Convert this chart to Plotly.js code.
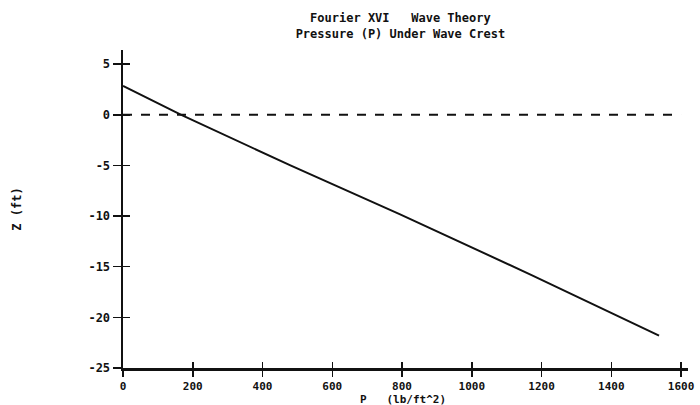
<!DOCTYPE html>
<html>
<head>
<meta charset="utf-8">
<script src="https://cdn.plot.ly/plotly-3.0.1.min.js"></script>
<style>html,body{margin:0;padding:0;background:#fff;}#chart{width:700px;height:405px;}</style>
</head>
<body>
<div id="chart"></div>
<script>
// Pressure profile under the wave crest
const pressure = [0, 167, 480, 793, 1170, 1537];
const depth = [2.85, 0, -5.0, -9.8, -15.8, -21.8];
// Still water level (dashed)
const swlP = [0, 1600];
const swlZ = [0, 0];
const xTicks = [0, 200, 400, 600, 800, 1000, 1200, 1400, 1600];
const yTicks = [5, 0, -5, -10, -15, -20, -25];

const font = {family: 'DejaVu Sans Mono, monospace', size: 12, color: '#111'};
const tfont = {family: 'DejaVu Sans Mono, monospace', size: 11, color: '#111'};

const traces = [
  {x: swlP, y: swlZ, mode: 'lines', line: {color: '#111', width: 2, dash: '9px,9px'}, hoverinfo: 'skip'},
  {x: pressure, y: depth, mode: 'lines', line: {color: '#111', width: 2}, hoverinfo: 'skip'}
];

const xr = [0, 1620], yr = [-25, 6.4];
const layout = {
  width: 700, height: 405,
  margin: {l: 123, r: 12, t: 50, b: 37},
  paper_bgcolor: '#fff', plot_bgcolor: '#fff',
  showlegend: false,
  font: font,
  title: {text: '<b>Fourier XVI   Wave Theory<br>Pressure (P) Under Wave Crest</b>',
          x: 0.572, xanchor: 'center', y: 0.945, yanchor: 'top',
          font: {family: 'DejaVu Sans Mono, monospace', size: 12, color: '#111'}},
  xaxis: {range: xr, tickvals: xTicks, ticktext: xTicks.map(v => '<b>' + v + '</b>'),
          ticks: 'outside', ticklen: 6, tickwidth: 1.5, tickcolor: '#111',
          showline: true, linecolor: '#111', linewidth: 2.5, showgrid: false, zeroline: false,
          tickfont: tfont},
  yaxis: {range: yr, tickvals: yTicks, ticktext: yTicks.map(v => '<b>' + v + '</b>'),
          ticks: 'outside', ticklen: 8, tickwidth: 1.5, tickcolor: '#111',
          showline: true, linecolor: '#111', linewidth: 2.5, showgrid: false, zeroline: false,
          tickfont: font,
          title: {text: '<b>Z (ft)</b>', font: font, standoff: 64}},
  xaxis2: {overlaying: 'x', range: xr, tickvals: xTicks, ticks: 'inside', ticklen: 6, tickwidth: 1.5,
           tickcolor: '#111', showticklabels: false, showgrid: false, zeroline: false, showline: false, side: 'bottom'},
  yaxis2: {overlaying: 'y', range: yr, tickvals: yTicks, ticks: 'inside', ticklen: 7, tickwidth: 1.5,
           tickcolor: '#111', showticklabels: false, showgrid: false, zeroline: false, showline: false, side: 'left'},
  annotations: [{text: '<b>P   (lb/ft^2)</b>', xref: 'paper', yref: 'paper', x: 0.495, y: -0.1,
                 xanchor: 'center', yanchor: 'middle', showarrow: false, font: tfont}]
};
traces.push({x: [0], y: [0], xaxis: 'x2', yaxis: 'y2', mode: 'markers', marker: {opacity: 0}, hoverinfo: 'skip'});

Plotly.newPlot('chart', traces, layout, {staticPlot: true});
</script>
</body>
</html>
